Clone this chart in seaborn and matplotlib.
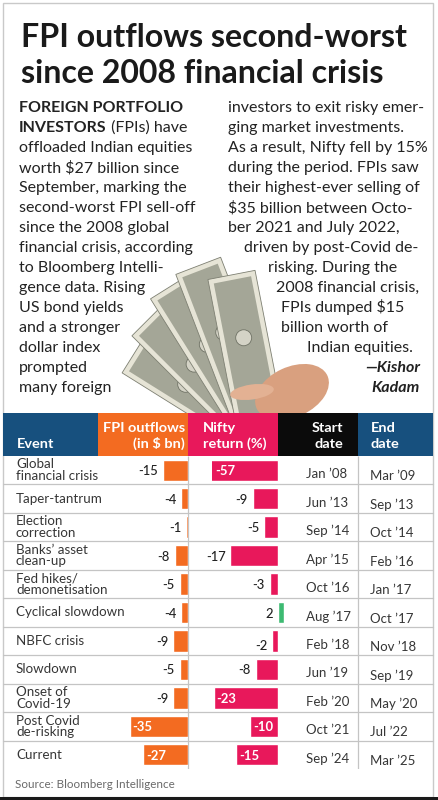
import matplotlib
matplotlib.use('Agg')
import matplotlib.pyplot as plt
from matplotlib.patches import Rectangle, Polygon, Ellipse
import numpy as np
import pandas as pd
import seaborn as sns

# table data
events = ['Global\nfinancial crisis', 'Taper-tantrum', 'Election\ncorrection',
          'Banks\u2019 asset\nclean-up', 'Fed hikes/\ndemonetisation', 'Cyclical slowdown',
          'NBFC crisis', 'Slowdown', 'Onset of\nCovid-19', 'Post Covid\nde-risking', 'Current']
fpi = [-15, -4, -1, -8, -5, -4, -9, -5, -9, -35, -27]
nifty = [-57, -9, -5, -17, -3, 2, -2, -8, -23, -10, -15]
start = ['Jan \u201908', 'Jun \u201913', 'Sep \u201914', 'Apr \u201915', 'Oct \u201916', 'Aug \u201917',
         'Feb \u201918', 'Jun \u201919', 'Feb \u201920', 'Oct \u201921', 'Sep \u201924']
end = ['Mar \u201909', 'Sep \u201913', 'Oct \u201914', 'Feb \u201916', 'Jan \u201917', 'Oct \u201917',
       'Nov \u201918', 'Sep \u201919', 'May \u201920', 'Jul \u201922', 'Mar \u201925']

title = ['FPI outflows second-worst', 'since 2008 financial crisis']

left_text = [('FOREIGN PORTFOLIO', ''), ('INVESTORS', ' (FPIs) have'),
             ('', 'offloaded Indian equities'), ('', 'worth $27 billion since'),
             ('', 'September, marking the'), ('', 'second-worst FPI sell-off'),
             ('', 'since the 2008 global'), ('', 'financial crisis, according'),
             ('', 'to Bloomberg Intelli-'), ('', 'gence data. Rising'),
             ('', 'US bond yields'), ('', 'and a stronger'), ('', 'dollar index'),
             ('', 'prompted'), ('', 'many foreign')]
right_text = ['investors to exit risky emer-', 'ging market investments.',
              'As a result, Nifty fell by 15%', 'during the period. FPIs saw',
              'their highest-ever selling of', '$35 billion between Octo-',
              'ber 2021 and July 2022,', 'driven by post-Covid de-', 'risking. During the',
              '2008 financial crisis,', 'FPIs dumped $15', 'billion worth of',
              'Indian equities.', '\u2014Kishor', 'Kadam']
source = 'Source: Bloomberg Intelligence'

df = pd.DataFrame({'event': events, 'fpi': fpi, 'nifty': nifty})
df['sign'] = np.where(df['nifty'] >= 0, 'up', 'down')

BLUE = '#17507e'
ORANGE = '#f36b21'
PINK = '#e8185b'
GREEN = '#3dba72'
DARK = '#222222'

sns.set_theme(style='white')
plt.rcParams['font.family'] = ['Lato', 'DejaVu Sans']

W, H = 439, 800
fig = plt.figure(figsize=(W / 100, H / 100), dpi=100)
fig.patch.set_facecolor('white')


def rect(x0, y0, x1, y1):
    return [x0 / W, 1 - y1 / H, (x1 - x0) / W, (y1 - y0) / H]


ax_bg = fig.add_axes([0, 0, 1, 1])
ax_bg.set_xlim(0, W)
ax_bg.set_ylim(H, 0)
ax_bg.axis('off')
renderer = fig.canvas.get_renderer()


def fit(s, width, **kw):
    t = ax_bg.text(0, 0, s, fontsize=10, **kw)
    w = t.get_window_extent(renderer).width
    t.remove()
    return 10 * width / w


# frame + bottom bar
ax_bg.add_patch(Rectangle((3, 3), 430, 794, fill=False, ec='#c9c9c9', lw=1, zorder=0))
ax_bg.add_patch(Rectangle((0, 797), W, 3, color='#1a1a1a', lw=0, zorder=5))

# title
fs_title = fit(title[0], 387, weight='bold')
ax_bg.text(21, 47, title[0], fontsize=fs_title, weight='bold', color='#1a1a1a', va='baseline')
ax_bg.text(21, 83, title[1], fontsize=fs_title, weight='bold', color='#1a1a1a', va='baseline')

# money picture (rough sketch of fanned notes and a hand)
pivot = np.array([262.0, 432.0])
for ang, L in zip([58, 45, 32, 21, 11], [150, 160, 172, 178, 160]):
    a = np.radians(ang)
    u = np.array([-np.sin(a), -np.cos(a)])
    p = np.array([np.cos(a), -np.sin(a)])
    w2 = 24
    pts = [pivot - p * w2, pivot + p * w2, pivot + p * w2 + u * L, pivot - p * w2 + u * L]
    ax_bg.add_patch(Polygon(pts, closed=True, fc='#e6e4d6', ec='#7d7f72', lw=0.6, zorder=1))
    inner = [pivot - p * (w2 - 5) + u * 5, pivot + p * (w2 - 5) + u * 5,
             pivot + p * (w2 - 5) + u * (L - 5), pivot - p * (w2 - 5) + u * (L - 5)]
    ax_bg.add_patch(Polygon(inner, closed=True, fc='#a4a697', ec='none', zorder=1))
    c = pivot + u * (L * 0.6)
    ax_bg.add_patch(Ellipse(tuple(c), 16, 16, fc='#d4d3c6', ec='#6f7265', lw=0.6, zorder=1))
ax_bg.add_patch(Ellipse((292, 392), 78, 50, angle=-25, fc='#d9a07f', ec='none', zorder=1))
ax_bg.add_patch(Ellipse((252, 392), 44, 15, angle=-8, fc='#e3b193', ec='none', zorder=1))

# body text
fs_body = fit('offloaded Indian equities', 174)
for k, (b, r) in enumerate(left_text):
    y = 112 + 20 * k
    if b:
        tb = ax_bg.text(19, y, b, fontsize=fs_body, weight='bold', color=DARK, va='baseline')
        if r:
            ax_bg.annotate(r, xy=(1, 0), xycoords=tb, fontsize=fs_body, color=DARK,
                           ha='left', va='bottom')
    else:
        ax_bg.text(19, y, r, fontsize=fs_body, color=DARK, va='baseline')

right_x = [228] * 7 + [244, 268, 276, 281, 281, 307, 420, 420]
for k, s in enumerate(right_text):
    y = 112 + 20 * k
    if k >= 13:
        ax_bg.text(right_x[k], y, s, fontsize=fs_body, weight='bold', style='italic',
                   color=DARK, va='baseline', ha='right')
    else:
        ax_bg.text(right_x[k], y, s, fontsize=fs_body, color=DARK, va='baseline')

# table header
HT, HB = 413, 456
for x0, x1, c in [(3, 98, BLUE), (98, 188, ORANGE), (188, 278, PINK), (278, 358, '#0b0b0b'),
                  (358, 433, BLUE)]:
    ax_bg.add_patch(Rectangle((x0, HT), x1 - x0, HB - HT, color=c, lw=0, zorder=2))
fs_head = fit('FPI outflows', 82, weight='bold')
hk = dict(fontsize=fs_head, weight='bold', color='white', va='baseline', zorder=3)
ax_bg.text(17, 448, 'Event', ha='left', **hk)
ax_bg.text(185, 432, 'FPI outflows', ha='right', **hk)
ax_bg.text(185, 448, '(in $ bn)', ha='right', **hk)
ax_bg.text(203, 432, 'Nifty', ha='left', **hk)
ax_bg.text(203, 448, 'return (%)', ha='left', **hk)
ax_bg.text(343, 432, 'Start', ha='right', **hk)
ax_bg.text(343, 448, 'date', ha='right', **hk)
ax_bg.text(371, 432, 'End', ha='left', **hk)
ax_bg.text(371, 448, 'date', ha='left', **hk)

fs_src = fit(source, 160)
ax_bg.text(15, 788, source, fontsize=fs_src, color='#6a6a6a', va='baseline')

# table body
n = len(events)
TOP, BOT = 456, 769
ax_tab = fig.add_axes(rect(0, TOP, W, BOT))
ax_tab.set_xlim(0, W)
ax_tab.set_ylim(n - 0.5, -0.5)
ax_tab.axis('off')
for i in range(n - 1):
    ax_tab.axhline(i + 0.5, xmin=3 / W, xmax=433 / W, color='#c4c4c4', lw=0.9)
ax_tab.vlines([188, 358], -0.5, n - 0.5, color='#c4c4c4', lw=0.9)

fs_ev = fit('Cyclical slowdown', 108)
fs_date = fit(start[0], 41)
for i in range(n):
    ax_tab.text(16, i, events[i], fontsize=fs_ev, color='#363636', va='center', ha='left',
                linespacing=0.95)
    ax_tab.text(306, i + 0.1, start[i], fontsize=fs_date, color='#363636', va='center_baseline')
    ax_tab.text(370, i + 0.18, end[i], fontsize=fs_date, color='#363636', va='center_baseline')

fs_val = fit('-15', 20, weight='medium')

# FPI bars
ax_fpi = fig.add_axes(rect(98, TOP, 188, BOT))
sns.barplot(data=df, x='fpi', y='event', order=events, color=ORANGE, width=0.75,
            saturation=1, orient='h', ax=ax_fpi)
ax_fpi.set_xlim(-54.2, 0)
ax_fpi.set_ylim(n - 0.5, -0.5)
ax_fpi.axis('off')
ax_fpi.patch.set_visible(False)
for i, v in enumerate(fpi):
    if v <= -20:
        ax_fpi.annotate(str(v), xy=(v, i), xytext=(2, 0), textcoords='offset points',
                        ha='left', va='center_baseline', color='white', weight='bold',
                        fontsize=fs_val, annotation_clip=False)
    else:
        ax_fpi.annotate(str(v), xy=(v, i), xytext=(-3.5, 0), textcoords='offset points',
                        ha='right', va='center_baseline', color=DARK, weight='medium',
                        fontsize=fs_val, annotation_clip=False)

# Nifty bars
nif_inside = [True, False, False, False, False, False, False, False, True, True, True]
ax_nif = fig.add_axes(rect(212, TOP, 290, BOT))
sns.barplot(data=df, x='nifty', y='event', order=events, hue='sign',
            palette={'down': PINK, 'up': GREEN}, dodge=False, legend=False, width=0.75,
            saturation=1, orient='h', ax=ax_nif)
lo = -66 / 2.8
ax_nif.set_xlim(lo, 12 / 2.8)
ax_nif.set_ylim(n - 0.5, -0.5)
ax_nif.axis('off')
ax_nif.patch.set_visible(False)
for i, v in enumerate(nifty):
    x = max(v, lo)
    if nif_inside[i]:
        ax_nif.annotate(str(v), xy=(x, i), xytext=(2, 0), textcoords='offset points',
                        ha='left', va='center_baseline', color='white', weight='bold',
                        fontsize=fs_val, annotation_clip=False)
    else:
        dy = -3 if v == -2 else 0
        ax_nif.annotate(str(v), xy=(min(v, 0), i), xytext=(-3.5, dy), textcoords='offset points',
                        ha='right', va='center_baseline', color=DARK, weight='medium',
                        fontsize=fs_val, annotation_clip=False)

fig.savefig('out.png', dpi=100, facecolor='white')
